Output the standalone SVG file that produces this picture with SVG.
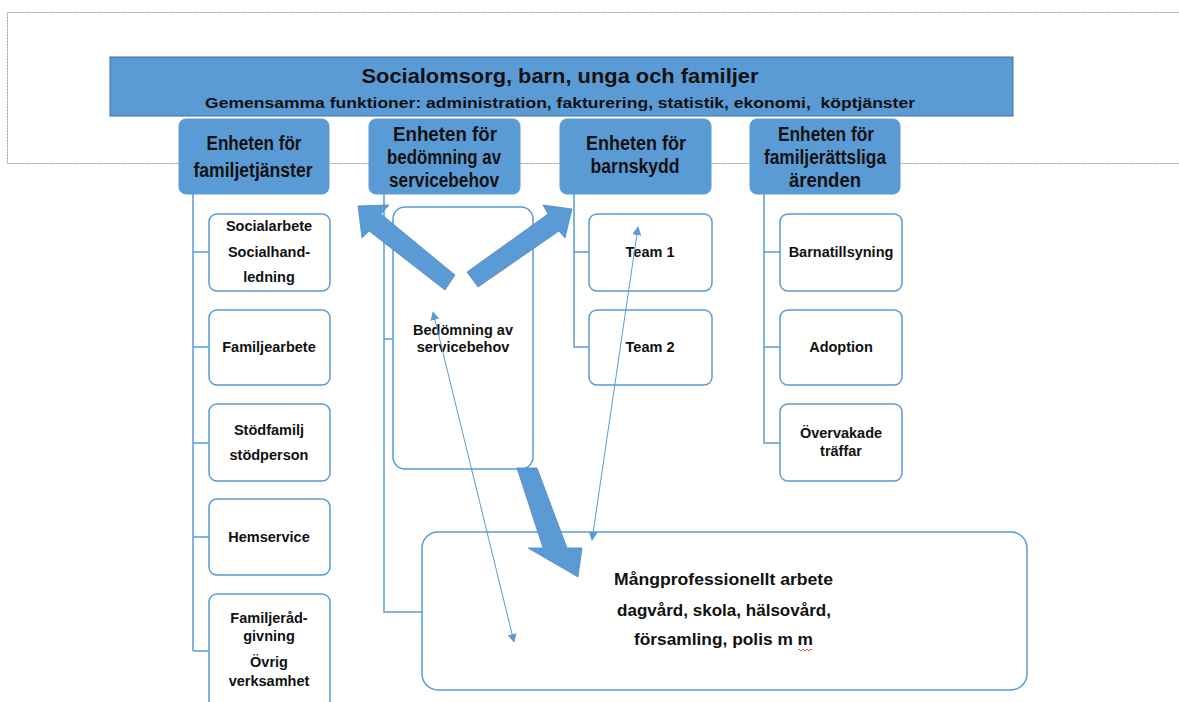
<svg xmlns="http://www.w3.org/2000/svg" width="1179" height="702" viewBox="0 0 1179 702">
<style>
.frame{fill:none;stroke:#9a9a9a;stroke-width:1;stroke-dasharray:2,1}
.bar{fill:#5B9BD5;stroke:#41719C;stroke-width:1}
.unit{fill:#5B9BD5;stroke:#5B9BD5;stroke-width:1}
.sub{fill:#ffffff;stroke:#5B9BD5;stroke-width:1.5}
.conn{fill:none;stroke:#5B9BD5;stroke-width:1.5}
.thin{fill:none;stroke:#5B9BD5;stroke-width:1}
.big{fill:#5B9BD5;stroke:#5289C4;stroke-width:0.8}
text{font-family:"Liberation Sans",Arial,sans-serif;font-weight:bold;fill:#111;text-anchor:middle}
.h{font-size:20px}
.t1{font-size:21px}
.t2{font-size:15px;white-space:pre}
.s{font-size:14.5px}
.m{font-size:16.5px}
</style>
<defs>
<marker id="ah" viewBox="0 0 10 10" refX="9" refY="5" markerWidth="9" markerHeight="9" markerUnits="userSpaceOnUse" orient="auto-start-reverse">
<path d="M0,0 L10,5 L0,10 Z" fill="#5B9BD5"/>
</marker>
</defs>
<rect class="frame" x="7.5" y="12.5" width="1190" height="151"/>
<g id="header">
<rect class="bar" x="110" y="57" width="903" height="59"/>
<text class="t1" x="560" y="83" textLength="397" lengthAdjust="spacingAndGlyphs">Socialomsorg, barn, unga och familjer</text>
<text class="t2" x="560" y="108" textLength="710" lengthAdjust="spacingAndGlyphs" xml:space="preserve">Gemensamma funktioner: administration, fakturering, statistik, ekonomi,  köptjänster</text>
</g>
<g id="connectors">
<path class="conn" d="M193,194 V651 M193,252 H209 M193,347 H209 M193,443 H209 M193,537 H209 M193,651 H209"/>
<path class="conn" d="M384,194 V612 H422 M384,339 H393"/>
<path class="conn" d="M574,194 V347 H589 M574,252 H589"/>
<path class="conn" d="M764,194 V443 H780 M764,252 H780 M764,347 H780"/>
</g>
<g id="unit1">
<rect class="unit" x="179" y="119" width="150" height="75" rx="7"/>
<text class="h" x="254" y="150" textLength="95" lengthAdjust="spacingAndGlyphs">Enheten för</text>
<text class="h" x="253" y="177" textLength="119" lengthAdjust="spacingAndGlyphs">familjetjänster</text>
</g>
<g id="unit2">
<rect class="unit" x="369" y="119" width="151" height="75" rx="7"/>
<text class="h" x="445" y="141" textLength="104" lengthAdjust="spacingAndGlyphs">Enheten för</text>
<text class="h" x="444" y="164" textLength="114" lengthAdjust="spacingAndGlyphs">bedömning av</text>
<text class="h" x="444" y="187" textLength="110" lengthAdjust="spacingAndGlyphs">servicebehov</text>
</g>
<g id="unit3">
<rect class="unit" x="560" y="119" width="151" height="75" rx="7"/>
<text class="h" x="636" y="150" textLength="100" lengthAdjust="spacingAndGlyphs">Enheten för</text>
<text class="h" x="635" y="173" textLength="89" lengthAdjust="spacingAndGlyphs">barnskydd</text>
</g>
<g id="unit4">
<rect class="unit" x="750" y="119" width="150" height="75" rx="7"/>
<text class="h" x="826" y="141" textLength="96" lengthAdjust="spacingAndGlyphs">Enheten för</text>
<text class="h" x="825" y="164" textLength="122" lengthAdjust="spacingAndGlyphs">familjerättsliga</text>
<text class="h" x="825" y="187" textLength="72" lengthAdjust="spacingAndGlyphs">ärenden</text>
</g>
<g id="socialarbete">
<rect class="sub" x="209" y="214" width="121" height="77" rx="8"/>
<text class="s" x="269" y="231">Socialarbete</text>
<text class="s" x="269" y="257">Socialhand-</text>
<text class="s" x="269" y="282">ledning</text>
</g>
<g id="familjearbete">
<rect class="sub" x="209" y="310" width="121" height="75" rx="8"/>
<text class="s" x="269" y="352">Familjearbete</text>
</g>
<g id="stodfamilj">
<rect class="sub" x="209" y="404" width="121" height="77" rx="8"/>
<text class="s" x="269" y="435">Stödfamilj</text>
<text class="s" x="269" y="460">stödperson</text>
</g>
<g id="hemservice">
<rect class="sub" x="209" y="499" width="121" height="76" rx="8"/>
<text class="s" x="269" y="542">Hemservice</text>
</g>
<g id="familjeradgivning">
<rect class="sub" x="209" y="594" width="121" height="120" rx="8"/>
<text class="s" x="269" y="623">Familjeråd-</text>
<text class="s" x="269" y="641">givning</text>
<text class="s" x="269" y="667">Övrig</text>
<text class="s" x="269" y="686">verksamhet</text>
</g>
<g id="bedomning">
<rect class="sub" x="393" y="207" width="140" height="262" rx="12"/>
<text class="s" x="463" y="335">Bedömning av</text>
<text class="s" x="463" y="352">servicebehov</text>
</g>
<g id="team1">
<rect class="sub" x="589" y="214" width="123" height="77" rx="8"/>
<text class="s" x="650" y="257">Team 1</text>
</g>
<g id="team2">
<rect class="sub" x="589" y="310" width="123" height="75" rx="8"/>
<text class="s" x="650" y="352">Team 2</text>
</g>
<g id="barnatillsyning">
<rect class="sub" x="780" y="214" width="122" height="77" rx="8"/>
<text class="s" x="841" y="257">Barnatillsyning</text>
</g>
<g id="adoption">
<rect class="sub" x="780" y="310" width="122" height="75" rx="8"/>
<text class="s" x="841" y="352">Adoption</text>
</g>
<g id="overvakade">
<rect class="sub" x="780" y="404" width="122" height="77" rx="8"/>
<text class="s" x="841" y="438">Övervakade</text>
<text class="s" x="841" y="456">träffar</text>
</g>
<g id="mangprofessionellt">
<rect class="sub" x="422" y="532" width="605" height="158" rx="16"/>
<text class="m" x="723.5" y="585" textLength="219" lengthAdjust="spacingAndGlyphs">Mångprofessionellt arbete</text>
<text class="m" x="724" y="616" textLength="214" lengthAdjust="spacingAndGlyphs">dagvård, skola, hälsovård,</text>
<text class="m" x="723.5" y="645" textLength="179" lengthAdjust="spacingAndGlyphs">församling, polis m m</text>
<path d="M798,650 q1,-2 2,0 t2,0 t2,0 t2,0 t2,0 t2,0 t2,0" fill="none" stroke="#e03030" stroke-width="0.8"/>
</g>
<g id="arrows">
<polygon class="big" points="358,206 389,205 381,214 455,275 445,290 369,231 362,238"/>
<polygon class="big" points="572,209 543,205 548,214 467,272 478,287 559,231 565,238"/>
<polygon class="big" points="517,468 537,468 567,548 582,548 578,577 528,548 543,548"/>
<line class="thin" x1="433" y1="312" x2="514" y2="642" marker-start="url(#ah)" marker-end="url(#ah)"/>
<line class="thin" x1="638" y1="227" x2="592" y2="540" marker-start="url(#ah)" marker-end="url(#ah)"/>
</g>
</svg>
